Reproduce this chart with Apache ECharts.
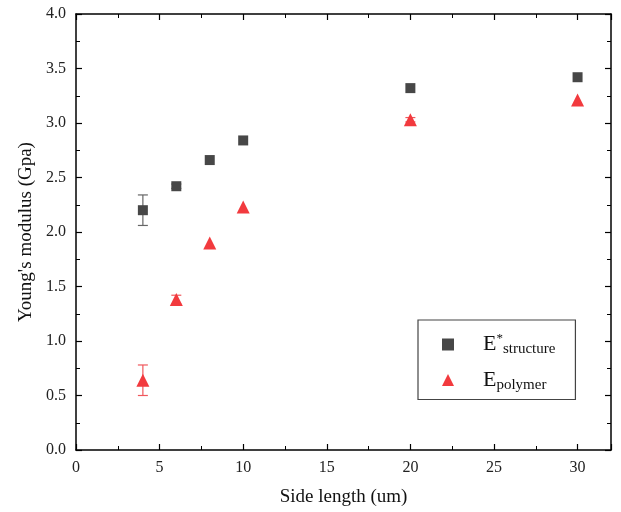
<!DOCTYPE html>
<html><head><meta charset="utf-8">
<script src="https://cdn.jsdelivr.net/npm/echarts@6/dist/echarts.min.js"></script>
<style>html,body{margin:0;padding:0;background:#fff}#c{width:621px;height:512px}</style>
</head><body><div id="c"></div>
<script>
const sideLength = [4, 6, 8, 10, 20, 30];
const structureVals = [2.20, 2.42, 2.66, 2.84, 3.32, 3.42];
const structureErr = [0.14, 0.02, 0, 0, 0, 0];
const polymerVals = [0.64, 1.38, 1.90, 2.23, 3.03, 3.21];
const polymerErr = [0.14, 0.04, 0, 0, 0.02, 0];
const xTicks = [0, 5, 10, 15, 20, 25, 30];
const yTicks = [0.0, 0.5, 1.0, 1.5, 2.0, 2.5, 3.0, 3.5, 4.0];

const FONT = '"Liberation Serif", "DejaVu Serif", serif';
const sqColor = '#474747';
const trColor = '#f23a3e';

function errSeries(vals, errs, color) {
  return {
    type: 'custom',
    silent: true,
    z: 1,
    data: sideLength.map((x, i) => [x, vals[i] - errs[i], vals[i] + errs[i]]),
    renderItem: function (params, api) {
      if (api.value(2) - api.value(1) <= 0) return { type: 'group', children: [] };
      const lo = api.coord([api.value(0), api.value(1)]);
      const hi = api.coord([api.value(0), api.value(2)]);
      const w = 5;
      const st = { stroke: color, lineWidth: 1.2 };
      return { type: 'group', children: [
        { type: 'line', shape: { x1: lo[0], y1: lo[1], x2: hi[0], y2: hi[1] }, style: st },
        { type: 'line', shape: { x1: lo[0]-w, y1: lo[1], x2: lo[0]+w, y2: lo[1] }, style: st },
        { type: 'line', shape: { x1: hi[0]-w, y1: hi[1], x2: hi[0]+w, y2: hi[1] }, style: st }
      ]};
    }
  };
}

const axisLine = { show: true, onZero: false, lineStyle: { color: '#000', width: 1.5 } };
const xFmt = v => xTicks.includes(v) ? String(v) : '';
const yFmt = v => yTicks.some(t => Math.abs(t - v) < 1e-9) ? v.toFixed(1) : '';

const chart = echarts.init(document.getElementById('c'));
chart.setOption({
  animation: false,
  backgroundColor: '#fff',
  grid: { left: 76, right: 10, top: 14, bottom: 62 },
  xAxis: [{
    type: 'value', min: 0, max: 32, interval: 5, position: 'bottom',
    axisLine, axisTick: { inside: true, length: 6, lineStyle: { color: '#000', width: 1.2 } },
    minorTick: { show: true, splitNumber: 2, length: 4, lineStyle: { color: '#000', width: 1 } },
    splitLine: { show: false },
    axisLabel: { formatter: xFmt, showMaxLabel: false, fontFamily: FONT, fontSize: 16, color: '#222', margin: 10 },
    name: 'Side length (um)', nameLocation: 'middle', nameGap: 38,
    nameTextStyle: { fontFamily: FONT, fontSize: 19, color: '#111' }
  }, {
    type: 'value', min: 0, max: 32, interval: 5, position: 'top',
    axisLine, axisTick: { inside: true, length: 6, lineStyle: { color: '#000', width: 1.2 } },
    minorTick: { show: true, splitNumber: 2, length: 4, lineStyle: { color: '#000', width: 1 } },
    splitLine: { show: false }, axisLabel: { show: false }
  }],
  yAxis: [{
    type: 'value', min: 0, max: 4, interval: 0.5, position: 'left',
    axisLine, axisTick: { inside: true, length: 6, lineStyle: { color: '#000', width: 1.2 } },
    minorTick: { show: true, splitNumber: 2, length: 4, lineStyle: { color: '#000', width: 1 } },
    splitLine: { show: false },
    axisLabel: { formatter: yFmt, fontFamily: FONT, fontSize: 16, color: '#222', margin: 10 },
    name: "Young's modulus (Gpa)", nameLocation: 'middle', nameGap: 40,
    nameTextStyle: { fontFamily: FONT, fontSize: 19, color: '#111' }
  }, {
    type: 'value', min: 0, max: 4, interval: 0.5, position: 'right',
    axisLine, axisTick: { inside: true, length: 6, lineStyle: { color: '#000', width: 1.2 } },
    minorTick: { show: true, splitNumber: 2, length: 4, lineStyle: { color: '#000', width: 1 } },
    splitLine: { show: false }, axisLabel: { show: false }
  }],
  legend: {
    orient: 'vertical', left: 418, top: 320,
    padding: [12, 20, 7, 24], itemGap: 12,
    borderColor: '#444', borderWidth: 1.2,
    itemWidth: 12, itemHeight: 12,
    data: [
      { name: 'structure', icon: 'rect', itemStyle: { color: sqColor } },
      { name: 'polymer', icon: 'triangle', itemStyle: { color: trColor } }
    ],
    formatter: n => n === 'structure' ? '{e|E}{sup|*}{sub|structure}' : '{e|E}{sub|polymer}',
    textStyle: {
      padding: [0, 0, 0, 24],
      rich: {
        e: { fontFamily: FONT, fontSize: 22, color: '#111', lineHeight: 24, verticalAlign: 'middle' },
        sup: { fontFamily: FONT, fontSize: 13, color: '#111', verticalAlign: 'top', padding: [0, 0, 8, 0] },
        sub: { fontFamily: FONT, fontSize: 15, color: '#111', verticalAlign: 'bottom', padding: [10, 0, 0, 0] }
      }
    }
  },
  series: [
    errSeries(structureVals, structureErr, '#666'),
    errSeries(polymerVals, polymerErr, '#f0585c'),
    {
      name: 'structure', type: 'scatter', symbol: 'rect', symbolSize: 10, z: 3,
      itemStyle: { color: sqColor, opacity: 1 },
      data: sideLength.map((x, i) => [x, structureVals[i]])
    },
    {
      name: 'polymer', type: 'scatter', symbol: 'triangle', symbolSize: 13, z: 3,
      itemStyle: { color: trColor, opacity: 1 },
      data: sideLength.map((x, i) => [x, polymerVals[i]])
    }
  ]
});
</script></body></html>
